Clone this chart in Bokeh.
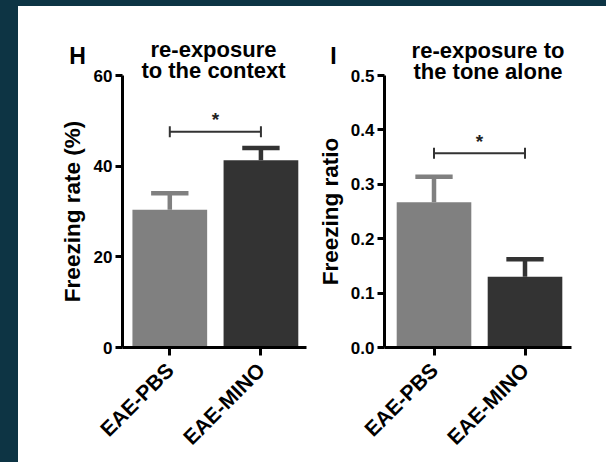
import math
from bokeh.plotting import figure
from bokeh.layouts import row, column
from bokeh.models import FixedTicker, Label, ColumnDataSource, NumeralTickFormatter
from bokeh.core.properties import value
from bokeh.embed import file_html
from bokeh.resources import INLINE

# ---------------- data ----------------
groups = ["EAE-PBS", "EAE-MINO"]
bar_colors = ["#808080", "#333333"]

context_mean = [30.4, 41.3]
context_sem = [3.6, 2.7]
context_sig_y = 47.6
context_ticks = [0, 20, 40, 60]

tone_mean = [0.267, 0.130]
tone_sem = [0.047, 0.032]
tone_sig_y = 0.357
tone_ticks = [0.0, 0.1, 0.2, 0.3, 0.4, 0.5]

panel_letters = ["H", "I"]
panel_titles = [["re-exposure", "to the context"], ["re-exposure to", "the tone alone"]]
y_labels = ["Freezing rate (%)", "Freezing ratio"]

FONT = "Liberation Sans"
TEAL = "#0d3444"
W, H = 588, 456


def make_panel(ylabel, means, sems, sig_y, yticks, yfmt,
               width, border_left, border_right, x_start, x_end, label_standoff):
    xs = list(range(1, len(groups) + 1))
    p = figure(width=width, height=H, output_backend="svg", toolbar_location=None,
               x_range=(x_start, x_end), y_range=(yticks[0], yticks[-1]),
               min_border_left=border_left, min_border_right=border_right,
               min_border_top=69, min_border_bottom=115)
    p.outline_line_color = None
    p.xgrid.visible = False
    p.ygrid.visible = False
    p.background_fill_color = "white"
    p.border_fill_color = "white"

    upper = [m + s for m, s in zip(means, sems)]
    src = ColumnDataSource(dict(x=xs, top=means, up=upper, color=bar_colors,
                                cx0=[x - 0.205 for x in xs], cx1=[x + 0.205 for x in xs]))
    p.vbar(x="x", top="top", width=0.82, fill_color="color", line_color=None, source=src)
    p.segment(x0="x", y0="top", x1="x", y1="up", line_color="color", line_width=4.5,
              line_cap="butt", source=src)
    p.segment(x0="cx0", y0="up", x1="cx1", y1="up", line_color="color", line_width=4.5,
              line_cap="butt", source=src)

    # significance bracket
    p.segment(x0=[xs[0]], y0=[sig_y], x1=[xs[-1]], y1=[sig_y], line_color="#333333",
              line_width=2)
    p.scatter(x=[xs[0], xs[-1]], y=[sig_y, sig_y], marker="dash", angle=math.pi / 2,
              size=11, line_color="#333333", line_width=2)
    p.text(x=[(xs[0] + xs[-1]) / 2], y=[sig_y], text=["*"], text_align="center",
           text_baseline="middle", y_offset=-12, text_font=value(FONT),
           text_font_style="bold", text_font_size="19px", text_color="#222222")

    # axes
    for ax in (p.xaxis[0], p.yaxis[0]):
        ax.axis_line_width = 3
        ax.axis_line_color = "black"
        ax.major_tick_line_width = 3
        ax.major_tick_line_color = "black"
        ax.major_tick_in = 0
        ax.minor_tick_line_color = None
        ax.major_label_text_font = FONT
        ax.major_label_text_font_style = "bold"
        ax.major_label_text_color = "black"

    xa = p.xaxis[0]
    xa.ticker = FixedTicker(ticks=xs)
    xa.major_label_overrides = {x: g for x, g in zip(xs, groups)}
    xa.major_label_orientation = math.pi / 4
    xa.major_tick_out = 8
    xa.major_label_text_font_size = "21px"
    xa.major_label_standoff = 11

    ya = p.yaxis[0]
    ya.ticker = FixedTicker(ticks=yticks)
    ya.formatter = NumeralTickFormatter(format=yfmt)
    ya.major_tick_out = 7
    ya.major_label_text_font_size = "17px"
    ya.major_label_standoff = 3
    ya.axis_label = ylabel
    ya.axis_label_text_font = FONT
    ya.axis_label_text_font_style = "bold"
    ya.axis_label_text_font_size = "22.5px"
    ya.axis_label_text_color = "black"
    ya.axis_label_standoff = label_standoff
    return p


pH = make_panel(y_labels[0], context_mean, context_sem, context_sig_y, context_ticks, "0",
                width=295, border_left=104, border_right=7, x_start=0.481, x_end=2.5,
                label_standoff=6)
pI = make_panel(y_labels[1], tone_mean, tone_sem, tone_sig_y, tone_ticks, "0.0",
                width=293, border_left=71, border_right=35, x_start=0.456, x_end=2.511,
                label_standoff=5)

# transparent overlay (pixel coordinates, y downwards) carrying the panel letters and titles
ov = figure(width=W, height=H, output_backend="svg", toolbar_location=None,
            x_range=(0, W), y_range=(H, 0), x_axis_type=None, y_axis_type=None,
            min_border=0, min_border_left=0, min_border_right=0, min_border_top=0,
            min_border_bottom=0, margin=(-H, 0, 0, 0))
ov.outline_line_color = None
ov.xgrid.visible = False
ov.ygrid.visible = False
ov.background_fill_color = None
ov.border_fill_color = None

letter_pos = [(59, 49), (315, 49)]
title_centers = [195, 469.5]
title_baselines = [[43, 63.5], [44, 64.5]]

for letter, (lx, ly) in zip(panel_letters, letter_pos):
    ov.add_layout(Label(x=lx, y=ly, text=letter, text_align="center",
                        text_baseline="middle", text_font=FONT, text_font_style="bold",
                        text_font_size="23px", text_color="black"))
for lines, cx, bls in zip(panel_titles, title_centers, title_baselines):
    for txt, by in zip(lines, bls):
        ov.add_layout(Label(x=cx, y=by, text=txt, text_align="center",
                            text_baseline="alphabetic", text_font=FONT,
                            text_font_style="bold", text_font_size="22px",
                            text_color="black"))

plots = row(pH, pI)
inner = column(plots, ov, margin=(6, 0, 0, 18), styles={"background-color": "white"})
layout = column(inner, styles={"background-color": TEAL})

open("out.html", "w").write(file_html(layout, INLINE))
